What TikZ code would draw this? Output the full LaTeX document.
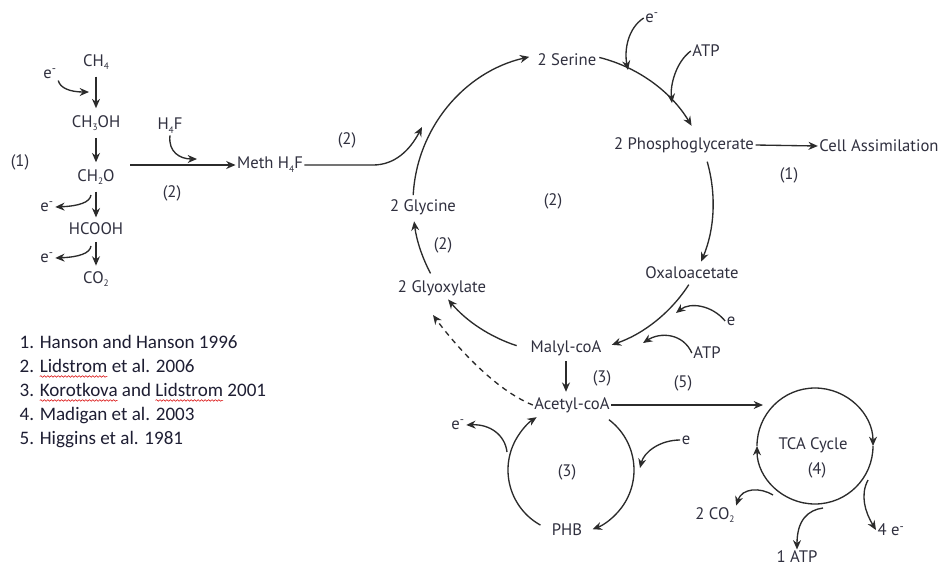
\documentclass[tikz,border=0pt]{standalone}
\usepackage{fontspec}
\setmainfont{PT Sans}
\newfontfamily\reffont{Carlito}
\usetikzlibrary{arrows.meta,calc,decorations.pathmorphing}
\definecolor{ink}{HTML}{2B2B2B}
\definecolor{txt}{HTML}{30303F}
\definecolor{reftxt}{HTML}{1E1E33}
\newcommand\reffontsize{\reffont\fontsize{14.3}{18}\selectfont}
\newcommand\redwave[1]{\tikz[baseline=(w.base)]{\node[inner sep=0pt,outer sep=0pt,font=\reffontsize,text=reftxt](w){#1};\draw[overlay,red!85!black,line width=0.4pt,decorate,decoration={snake,amplitude=0.6pt,segment length=2.6pt}] ([yshift=-2.6pt]w.base west) -- ([yshift=-2.6pt]w.base east);}}
\newcommand\sbs[1]{\raisebox{-0.45ex}{\scriptsize #1}}
\newcommand\elec{e\textsuperscript{-}}
\begin{document}
\begin{tikzpicture}[x=0.75pt,y=-0.75pt,
  every node/.style={font=\fontsize{12.5}{14}\selectfont, text=txt, inner sep=1pt},
  flow/.style={draw=ink, line width=1pt, -{Stealth[length=7pt,width=6pt]}},
  plain/.style={draw=ink, line width=1pt},
  reflist/.style={align=left, font=\reffontsize, text=reftxt}]
\fill[white] (0,0) rectangle (943,568);
\useasboundingbox (0,0) rectangle (943,568);

% ---------- left chain ----------
\node (ch4) at (96,62) {CH\sbs{4}};
\node (ch3oh) at (96,123) {CH\sbs{3}OH};
\node (ch2o) at (96,177) {CH\sbs{2}O};
\node (hcooh) at (96,229) {HCOOH};
\node (co2) at (96,279) {CO\sbs{2}};
\node (e1) at (50,74) {\elec};
\node (e2) at (47,207) {\elec};
\node (e3) at (47,258) {\elec};
\node (r1) at (20,162) {(1)};
\node (h4f) at (170,126) {H\sbs{4}F};
\node (meth) at (270,165) {Meth H\sbs{4}F};
\node (l2a) at (172,193) {(2)};
\node (l2b) at (347,140) {(2)};

\draw[flow, shorten <=4pt, shorten >=4pt] (ch4.south) -- (ch3oh.north);
\draw[flow, shorten <=4pt, shorten >=4pt] (ch3oh.south) -- (ch2o.north);
\draw[flow, shorten <=4pt, shorten >=3pt] (ch2o.south) -- (hcooh.north);
\draw[flow, shorten <=4pt, shorten >=3pt] (hcooh.south) -- (co2.north);

\coordinate (e1t) at (89,92);
\draw[flow] (e1.south east) .. controls (60,88) and (70,92) .. (e1t);
\coordinate (e2s) at (91,195);
\draw[flow] (e2s) .. controls (90,202) and (80,206) .. (e2.east);
\coordinate (e3s) at (91,246);
\draw[flow] (e3s) .. controls (90,253) and (80,257) .. (e3.east);

\coordinate (hs) at (130,165);
\draw[flow] (hs) -- (meth.west);
\coordinate (h4ft) at (197,159);
\draw[flow] (h4f.south) .. controls (168,152) and (180,159) .. (h4ft);

\coordinate (mbend) at (373,165);
\coordinate (mtip) at (422,127);
\draw[flow] (meth.east) -- (mbend) .. controls (395,165) and (410,150) .. (mtip);

% ---------- serine cycle ----------
\coordinate (C) at (563,203);
\node (ser) at (567,60) {2 Serine};
\node (gly) at (423,207) {2 Glycine};
\node (pga) at (684,145) {2 Phosphoglycerate};
\node (cell) at (879,146) {Cell Assimilation};
\node (oxa) at (692,273) {Oxaloacetate};
\node (mal) at (566,348) {Malyl-coA};
\node (glx) at (442,288) {2 Glyoxylate};
\node (ace) at (572,405) {Acetyl-coA};
\node (l2c) at (553,201) {(2)};
\node (l2d) at (443,245) {(2)};
\node (l1b) at (789,175) {(1)};
\node (l3a) at (602,378) {(3)};
\node (l5) at (683,383) {(5)};

\draw[flow] ($(C)+(183:150)$) arc[start angle=183, end angle=257, radius=150];
\draw[flow] ($(C)+(284:150)$) arc[start angle=284, end angle=329, radius=150];
\draw[flow] ($(C)+(344:150)$) arc[start angle=344, end angle=383, radius=150];
\draw[flow] ($(C)+(33:150)$) arc[start angle=33, end angle=71, radius=150];
\draw[flow] ($(C)+(108:150)$) arc[start angle=108, end angle=140, radius=150];
\draw[flow] ($(C)+(152:150)$) arc[start angle=152, end angle=173, radius=150];

\draw[flow] (pga.east) -- (cell.west);

\node (et) at (652,18) {\elec};
\coordinate (ett) at (628,70);
\draw[flow] (et.west) .. controls (628,28) and (624,50) .. (ett);
\node (atp1) at (706,51) {ATP};
\coordinate (atp1t) at (672,103);
\draw[flow] (atp1.west) .. controls (676,62) and (670,85) .. (atp1t);

\node (e5) at (731,321) {e};
\coordinate (e5t) at (676,313);
\draw[flow] (e5.west) .. controls (712,305) and (690,302) .. (e5t);
\node (atp2) at (707,353) {ATP};
\coordinate (atp2t) at (643,343);
\draw[flow] (atp2.west) .. controls (683,333) and (660,332) .. (atp2t);

\draw[flow, shorten <=3pt, shorten >=3pt] (mal.south) -- (ace.north -| mal.south);

\coordinate (glxt) at (433,315);
\draw[flow, dash pattern=on 4pt off 3.5pt] (ace.west) .. controls (495,390) and (455,345) .. (glxt);

% ---------- PHB cycle ----------
\coordinate (S) at (571,470);
\node (phb) at (567,530) {PHB};
\node (l3b) at (567,472) {(3)};
\draw[flow] ($(S)+(-53:63)$) arc[start angle=-53, end angle=70, radius=63];
\draw[flow] ($(S)+(119:63)$) arc[start angle=119, end angle=237, radius=63];
\node (e6) at (458,425) {\elec};
\coordinate (e6s) at (507,452);
\draw[flow] (e6s) .. controls (505,435) and (490,424) .. (e6.east);
\node (e7) at (686,440) {e};
\coordinate (e7t) at (640,468);
\draw[flow] (e7.west) .. controls (660,440) and (644,452) .. (e7t);

% ---------- TCA cycle ----------
\coordinate (T) at (815,446);
\node (tca) at (813,445) {TCA Cycle};
\node (l4) at (817,470) {(4)};
\draw[flow] ($(T)+(270:58)$) arc[start angle=270, end angle=360, radius=58];
\draw[flow] ($(T)+(0:58)$) arc[start angle=0, end angle=180, radius=58];
\draw[plain] ($(T)+(180:58)$) arc[start angle=180, end angle=270, radius=58];
\coordinate (tcain) at (763,405);
\draw[flow] (ace.east) -- (tcain);

\node (co2b) at (715,515) {2 CO\sbs{2}};
\coordinate (co2s) at (773,495);
\draw[flow] (co2s) .. controls (760,487) and (742,488) .. (co2b.north east);
\node (atp3) at (797,557) {1 ATP};
\coordinate (atp3s) at (823,508);
\draw[flow] (atp3s) .. controls (808,510) and (797,520) .. (atp3.north);
\node (e8) at (891,530) {4 \elec};
\coordinate (e8s) at (868,480);
\draw[flow] (e8s) .. controls (860,495) and (865,512) .. (e8.west);

% ---------- references ----------
\node[reflist, anchor=west] (refs) at (18,392) {1. Hanson and Hanson 1996\\2. \redwave{Lidstrom} et al. 2006\\3. \redwave{Korotkova} and \redwave{Lidstrom} 2001\\4. Madigan et al. 2003\\5. Higgins et al. 1981};
\end{tikzpicture}
\end{document}
